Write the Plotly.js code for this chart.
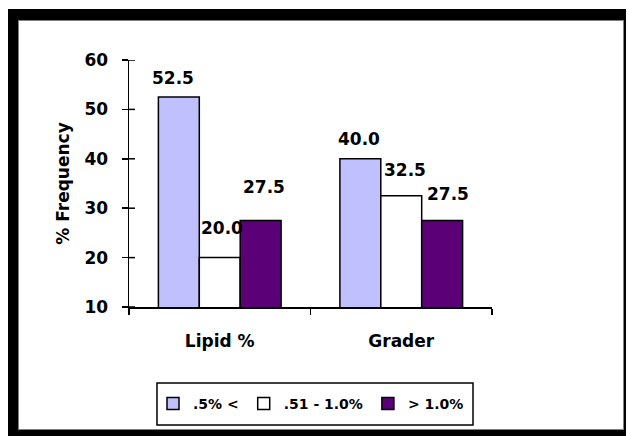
<!DOCTYPE html>
<html>
<head>
<meta charset="utf-8">
<script src="https://cdn.plot.ly/plotly-3.0.1.min.js"></script>
<style>
  html, body { margin: 0; padding: 0; background: #fff; }
  #wrap { position: relative; width: 628px; height: 436px; overflow: hidden; }
  #chart { position: absolute; left: 0; top: 0; width: 628px; height: 436px; }
  #frame { position: absolute; left: 8px; top: 9px; width: 606px; height: 410px;
           border-left: 10px solid #000; border-top: 11px solid #000;
           border-right: 2px solid #000; border-bottom: 6px solid #000;
           pointer-events: none; }
  #frame2 { position: absolute; left: 18px; top: 20px; width: 604px; height: 408px;
            border: 1px solid #808080; pointer-events: none; }
</style>
</head>
<body>
<div id="wrap">
  <div id="chart"></div>
  <div id="frame"></div>
  <div id="frame2"></div>
</div>
<script>
// ---- data ----
const categories = ["Lipid %", "Grader"];
const seriesNames = [".5% <", ".51 - 1.0%", "> 1.0%"];
const lowValues = [52.5, 40.0];
const midValues = [20.0, 32.5];
const highValues = [27.5, 27.5];
const yTicks = [10, 20, 30, 40, 50, 60];

// ---- style ----
const colors = ["#C0C0FF", "#FFFFFF", "#5C0078"];
const FONT = "DejaVu Sans, Verdana, sans-serif";
const FS = 17;
// label pixel offsets [series][category] : [dx, dy above bar top]
const labelShift = [
  [[-6, 19], [-1, 20]],
  [[2, 30], [4, 26]],
  [[3, 34], [6, 27]]
];
const barPx = 41;

const seriesValues = [lowValues, midValues, highValues];

const traces = seriesValues.map((vals, i) => ({
  type: "bar",
  name: seriesNames[i],
  x: categories,
  y: vals,
  marker: { color: colors[i], line: { color: "#000", width: 1.5 } },
  hoverinfo: "none"
}));

const annotations = [];
seriesValues.forEach((vals, i) => {
  vals.forEach((v, j) => {
    annotations.push({
      xref: "x", yref: "y", x: categories[j], y: v,
      text: v.toFixed(1), showarrow: false,
      xanchor: "center", yanchor: "middle",
      xshift: (i - 1) * barPx + labelShift[i][j][0],
      yshift: labelShift[i][j][1],
      font: { family: FONT, size: FS, color: "#000", weight: "bold" }
    });
  });
});

// inner half of the crossing y-axis ticks
const shapes = yTicks.map(t => ({
  type: "line", xref: "paper", yref: "y",
  x0: 0, x1: 6 / 363, y0: t, y1: t,
  line: { color: "#000", width: 1.5 }
}));
// legend box
shapes.push({
  type: "rect", xref: "paper", yref: "paper",
  x0: 28 / 363, x1: 344 / 363, y0: -76 / 247, y1: -118 / 247,
  line: { color: "#000", width: 1.5 }, fillcolor: "rgba(0,0,0,0)"
});

const layout = {
  width: 628, height: 436,
  margin: { l: 129, r: 136, t: 60, b: 129 },
  paper_bgcolor: "#fff", plot_bgcolor: "#fff",
  barmode: "group", bargap: 0.324, bargroupgap: 0,
  showlegend: true,
  legend: {
    orientation: "h", x: 24 / 363, xanchor: "left", y: -97 / 247, yanchor: "middle",
    borderwidth: 0, bgcolor: "rgba(0,0,0,0)",
    font: { family: FONT, size: 14, color: "#000", weight: "bold" },
    traceorder: "normal", itemwidth: 30
  },
  xaxis: {
    type: "category", showline: true, linecolor: "#000", linewidth: 1.5,
    ticks: "outside", tickson: "boundaries", ticklen: 6, tickcolor: "#000", tickwidth: 1.5,
    ticklabelstandoff: 18,
    showgrid: false, zeroline: false,
    tickfont: { family: FONT, size: FS, color: "#000", weight: "bold" }
  },
  yaxis: {
    range: [10, 60], tickvals: yTicks, ticktext: yTicks.map(String),
    showline: true, linecolor: "#000", linewidth: 1.5,
    ticks: "outside", ticklen: 6, tickcolor: "#000", tickwidth: 1.5,
    ticklabelstandoff: 10,
    showgrid: false, zeroline: false,
    tickfont: { family: FONT, size: FS, color: "#000", weight: "bold" },
    title: { text: "% Frequency", standoff: 10,
             font: { family: FONT, size: FS, color: "#000", weight: "bold" } }
  },
  shapes: shapes,
  annotations: annotations
};

Plotly.newPlot("chart", traces, layout, { displayModeBar: false, staticPlot: true });
</script>
</body>
</html>
